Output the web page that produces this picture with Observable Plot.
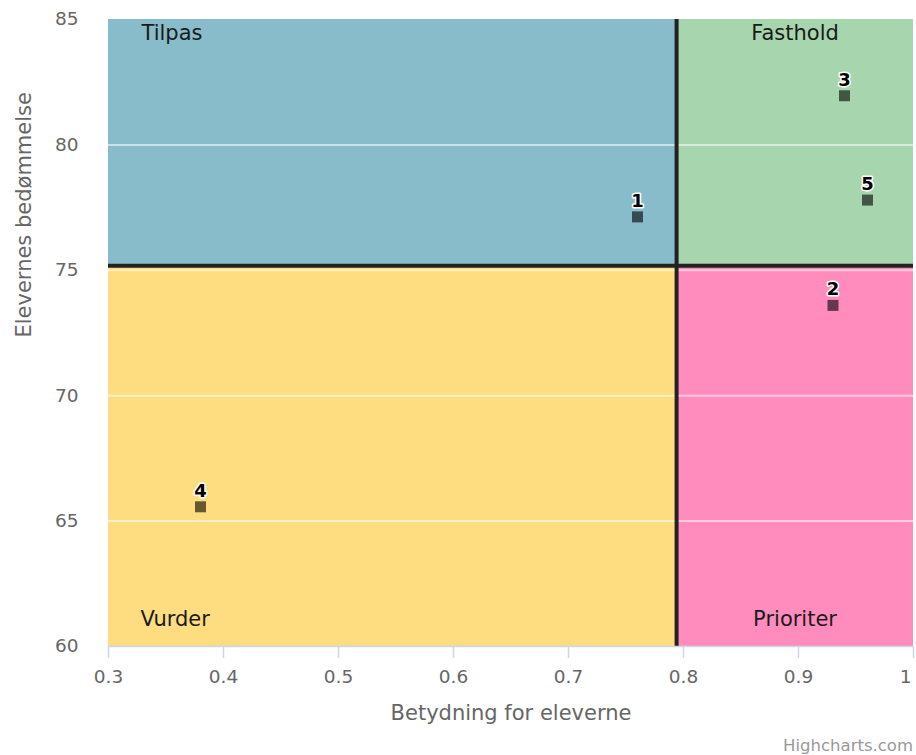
<!DOCTYPE html>
<html>
<head>
<meta charset="utf-8">
<script src="https://cdn.jsdelivr.net/npm/d3@7"></script>
<script src="https://cdn.jsdelivr.net/npm/@observablehq/plot@0.6"></script>
<style>
  html, body { margin: 0; padding: 0; background: #fff; }
  #wrap { position: relative; width: 916px; height: 755px; font-family: "DejaVu Sans", Verdana, sans-serif; }
  #credit { position: absolute; right: 3px; top: 736px; font-size: 16.5px; color: #999; line-height: 20px; }
</style>
</head>
<body>
<div id="wrap"><div id="credit">Highcharts.com</div></div>
<script>
// Points
const pointIds = ["1", "2", "3", "4", "5"];
const importance = [0.76, 0.93, 0.94, 0.38, 0.96];   // Betydning for eleverne
const rating = [77.13, 73.6, 81.96, 65.57, 77.8];     // Elevernes bedømmelse

// Quadrants
const quadrantNames = ["Tilpas", "Fasthold", "Vurder", "Prioriter"];
const quadrantColors = ["#88bccb", "#a7d5ad", "#fddd7f", "#ff8cbc"];
const xMin = 0.3, xMax = 1.0, yMin = 60, yMax = 85;
const xSplit = 0.794, ySplit = 75.18;

// Ticks
const xTicks = [0.3, 0.4, 0.5, 0.6, 0.7, 0.8, 0.9, 1.0];
const yTicks = [60, 65, 70, 75, 80, 85];
const xTitle = "Betydning for eleverne";
const yTitle = "Elevernes bedømmelse";

const quads = [
  {name: quadrantNames[0], color: quadrantColors[0], x1: xMin, x2: xSplit, y1: ySplit, y2: yMax, top: true, left: true},
  {name: quadrantNames[1], color: quadrantColors[1], x1: xSplit, x2: xMax, y1: ySplit, y2: yMax, top: true, left: false},
  {name: quadrantNames[2], color: quadrantColors[2], x1: xMin, x2: xSplit, y1: yMin, y2: ySplit, top: false, left: true},
  {name: quadrantNames[3], color: quadrantColors[3], x1: xSplit, x2: xMax, y1: yMin, y2: ySplit, top: false, left: false}
];
const points = pointIds.map((id, i) => ({id, x: importance[i], y: rating[i]}));

const font = "DejaVu Sans, Verdana, sans-serif";
const fmt = d => String(+d.toFixed(2));

const topLeft = quads.filter(d => d.top && d.left);
const topRight = quads.filter(d => d.top && !d.left);
const botLeft = quads.filter(d => !d.top && d.left);
const botRight = quads.filter(d => !d.top && !d.left);

const chart = Plot.plot({
  width: 916,
  height: 755,
  marginLeft: 108,
  marginRight: 3,
  marginTop: 19,
  marginBottom: 109,
  style: {fontFamily: font, background: "white", overflow: "visible"},
  x: {domain: [xMin, xMax]},
  y: {domain: [yMin, yMax]},
  marks: [
    Plot.rect(quads, {x1: "x1", x2: "x2", y1: "y1", y2: "y2", fill: "color"}),
    Plot.ruleY(yTicks.filter(t => t > yMin && t < yMax), {stroke: "white", strokeOpacity: 0.55, strokeWidth: 2}),
    Plot.ruleX([xSplit], {stroke: "#222", strokeWidth: 4}),
    Plot.ruleY([ySplit], {stroke: "#222", strokeWidth: 4}),
    Plot.ruleY([yMin], {stroke: "#ccd6eb", strokeWidth: 1.5}),
    Plot.axisX({ticks: xTicks, tickSize: 12, tickPadding: 11, stroke: "#ccd6eb", strokeWidth: 1.5, text: null, label: null}),
    Plot.axisX({ticks: xTicks.slice(0, -1), tickSize: 0, tickPadding: 23, tickFormat: fmt, fill: "#666", fontSize: 18.5, label: null}),
    Plot.axisX({ticks: xTicks.slice(-1), tickSize: 0, tickPadding: 23, tickFormat: fmt, fill: "#666", fontSize: 18.5, label: null, textAnchor: "end", dx: -2}),
    Plot.axisY({ticks: yTicks, tickSize: 0, tickPadding: 30, fill: "#666", fontSize: 18.5, label: null}),
    // Quadrant labels
    Plot.text(topLeft, {x: "x1", y: "y2", text: "name", textAnchor: "start", dx: 33, dy: 14, fontSize: 21, fill: "#1a1a1a", lineAnchor: "middle"}),
    Plot.text(topRight, {x: d => (d.x1 + d.x2) / 2, y: "y2", text: "name", textAnchor: "middle", dy: 14, fontSize: 21, fill: "#1a1a1a", lineAnchor: "middle"}),
    Plot.text(botLeft, {x: "x1", y: "y1", text: "name", textAnchor: "start", dx: 32, dy: -27, fontSize: 21, fill: "#1a1a1a", lineAnchor: "middle"}),
    Plot.text(botRight, {x: d => (d.x1 + d.x2) / 2, y: "y1", text: "name", textAnchor: "middle", dy: -27, fontSize: 21, fill: "#1a1a1a", lineAnchor: "middle"}),
    // Points
    Plot.dot(points, {x: "x", y: "y", symbol: "square", r: 6.2, fill: "#000", fillOpacity: 0.6, stroke: "none"}),
    Plot.text(points, {x: "x", y: "y", text: "id", dy: -16, fontSize: 18, fontWeight: "bold", fill: "#000", stroke: "white", strokeWidth: 3, lineAnchor: "middle"}),
    // Axis titles
    Plot.text([xTitle], {frameAnchor: "bottom", text: d => d, dy: 66.5, fontSize: 21, fill: "#666", lineAnchor: "middle"}),
    Plot.text([yTitle], {frameAnchor: "left", text: d => d, dx: -84.5, dy: 4.5, rotate: -90, fontSize: 21, fill: "#666", lineAnchor: "middle"})
  ]
});
document.getElementById("wrap").prepend(chart);
</script>
</body>
</html>
